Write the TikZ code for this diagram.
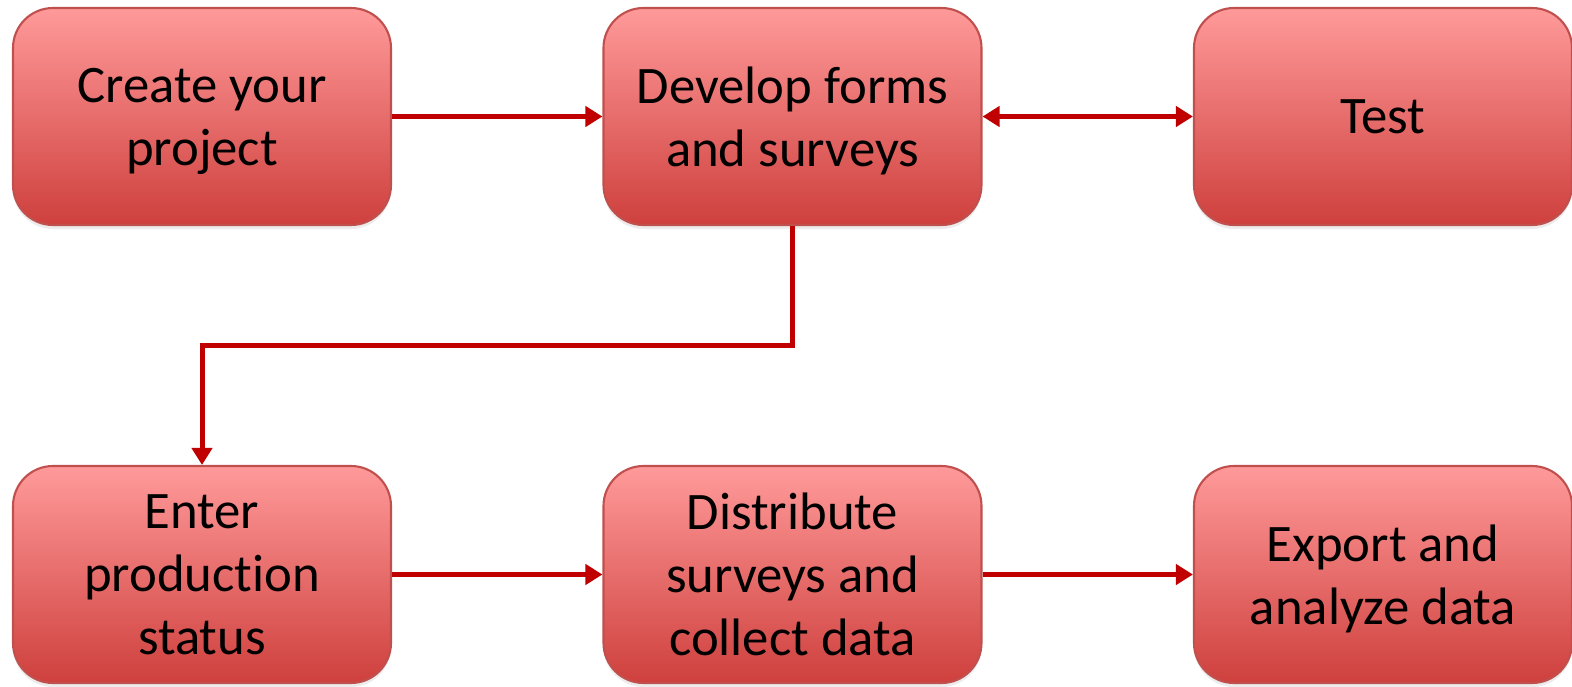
\documentclass[tikz,border=0pt]{standalone}
\usepackage{fontspec}
\setmainfont[Ligatures=NoCommon]{Carlito}
\usetikzlibrary{arrows.meta,shadows,calc}

\definecolor{boxtop}{RGB}{255,154,154}
\definecolor{boxbottom}{RGB}{206,64,61}
\definecolor{boxline}{RGB}{192,80,77}
\definecolor{flow}{RGB}{192,0,0}

\begin{document}
\begin{tikzpicture}

      \useasboundingbox (0,0) rectangle (15.72,6.86);

      \begin{scope}[every node/.style={rectangle,rounded corners=0.4cm,
          draw=boxline,line width=0.6pt,top color=boxtop,bottom color=boxbottom,
          minimum width=3.78cm,minimum height=2.17cm,inner sep=0pt,align=center,
          text depth=0pt,font=\fontsize{15}{17.9}\selectfont,
          drop shadow={opacity=0.15,shadow xshift=0cm,shadow yshift=-0.04cm}}]
        \node (1) at (2.02,5.695)  {Create your\\project};
        \node (2) at (7.925,5.695) {Develop forms\\and surveys};
        \node (3) at (13.83,5.695) {Test};
        \node (4) at (2.02,1.115)  {Enter\\production\\status};
        \node (5) at (7.925,1.115) {Distribute\\surveys and\\collect data};
        \node (6) at (13.83,1.115) {Export and\\analyze data};
      \end{scope}

      \coordinate (turn) at ($(2.south)!.5!(4.north)$);

      \begin{scope}[every edge/.style={draw=flow,line width=0.05cm,
          -{Triangle[length=0.17cm,width=0.2cm]}}]
        \path (1) edge (2);
        \path (2) edge[{Triangle[length=0.17cm,width=0.2cm]}-{Triangle[length=0.17cm,width=0.2cm]}] (3);
        \path (4) edge (5);
        \path (5) edge (6);
      \end{scope}

      \draw[flow,line width=0.05cm,-{Triangle[length=0.17cm,width=0.2cm]}]
        (2.south) |- (turn) -| (4.north);

    \end{tikzpicture}
\end{document}
